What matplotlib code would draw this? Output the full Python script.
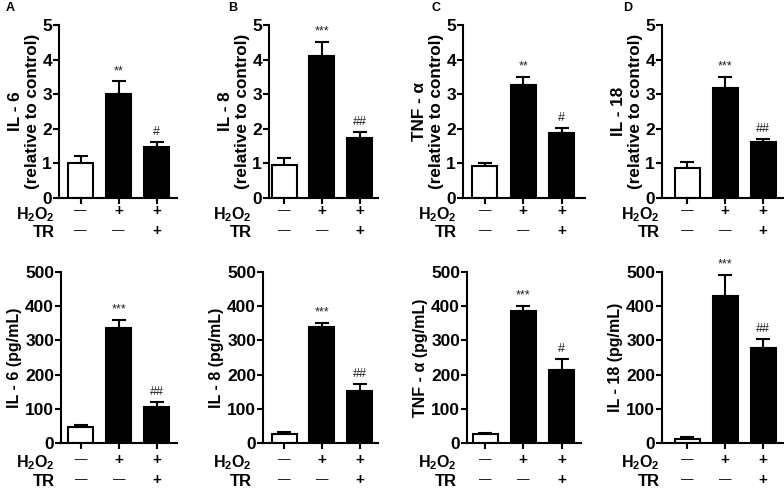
import matplotlib
matplotlib.use("Agg")
import matplotlib.pyplot as plt
import matplotlib.transforms as mtransforms

plt.rcParams['font.family'] = ['Liberation Sans', 'DejaVu Sans']
plt.rcParams['font.weight'] = 'bold'
plt.rcParams['mathtext.fontset'] = 'custom'
plt.rcParams['mathtext.rm'] = 'Liberation Sans:bold'
plt.rcParams['mathtext.bf'] = 'Liberation Sans:bold'

# relative to control (top row)
rel_labels = ['IL - 6', 'IL - 8', 'TNF - \u03b1', 'IL - 18']
rel_means = [[1.0, 3.02, 1.48], [0.96, 4.1, 1.73], [0.92, 3.27, 1.89], [0.88, 3.17, 1.63]]
rel_errs = [[0.2, 0.35, 0.13], [0.21, 0.42, 0.17], [0.09, 0.24, 0.14], [0.16, 0.34, 0.08]]
rel_marks = [['', '**', '#'], ['', '***', '##'], ['', '**', '#'], ['', '***', '##']]

# concentration pg/mL (bottom row)
pg_means = [[46, 335, 104], [27, 339, 153], [26, 385, 212], [13, 429, 279]]
pg_errs = [[6, 25, 15], [5, 12, 19], [4, 17, 34], [4, 63, 24]]
pg_marks = [['', '***', '##'], ['', '***', '##'], ['', '***', '#'], ['', '***', '##']]

h2o2_signs = ['\u2014', '+', '+']
tr_signs = ['\u2014', '\u2014', '+']
panel_letters = ['A', 'B', 'C', 'D']

W, H = 784, 488
fig = plt.figure(figsize=(W / 100, H / 100), dpi=100)

# layout in pixels: axis left, axis right, first bar centre, last bar centre
top_box = [(59, 177, 80.5, 156.5), (269, 378, 284, 359.5), (463, 585, 485, 561.5), (662, 784, 687, 763)]
bot_box = [(61, 177, 80.8, 156.8), (263, 378, 284, 359.5), (467, 581, 485, 561.5), (662, 784, 687, 763)]
lab_right = [55, 252, 457, 660]
letter_x = [6, 228, 432, 623]


def draw_panel(box, ytop, ybot, means, errs, marks, ylabel, ylsize, ymax, step, row_y, lab_x, lab_dy):
    left, right, c0, c2 = box
    ax = fig.add_axes([left / W, 1 - ybot / H, (right - left) / W, (ybot - ytop) / H])
    sp = (c2 - c0) / 2
    x = [0, 1, 2]
    colors = ['white', 'black', 'black']
    ax.bar(x, means, width=25 / sp, color=colors, edgecolor='black', linewidth=1.5, zorder=2)
    ax.errorbar(x, means, yerr=[[0, 0, 0], errs], fmt='none', ecolor='black',
                elinewidth=1.5, capsize=5, capthick=1.5, zorder=1)
    for xi, m, e, s in zip(x, means, errs, marks):
        if s:
            ax.annotate(s, (xi, m + e), xytext=(0, 3), textcoords='offset points',
                        ha='center', va='bottom', fontsize=9, fontweight='normal', color='#222222')
    ax.set_xlim((left - c0) / sp, 2 + (right - c2) / sp)
    ax.set_ylim(0, ymax)
    ax.set_yticks([i * step for i in range(6)])
    ax.set_xticks(x)
    ax.set_xticklabels([])
    for s in ['top', 'right']:
        ax.spines[s].set_visible(False)
    for s in ['left', 'bottom']:
        ax.spines[s].set_linewidth(1.5)
    ax.tick_params(axis='both', direction='out', length=4, width=1.5, labelsize=12.5, pad=1)
    ax.set_ylabel(ylabel, fontsize=ylsize, fontweight='bold', linespacing=1.1, labelpad=2)
    trans = mtransforms.blended_transform_factory(ax.transData, fig.transFigure)
    for xi, hs, ts in zip(x, h2o2_signs, tr_signs):
        fig.text(xi, 1 - row_y / H, hs, transform=trans, ha='center', va='center',
                 fontsize=9 if hs != '+' else 11, fontweight='normal' if hs != '+' else 'bold')
        fig.text(xi, 1 - (row_y + 20) / H, ts, transform=trans, ha='center', va='center',
                 fontsize=9 if ts != '+' else 11, fontweight='normal' if ts != '+' else 'bold')
    fig.text(lab_x / W, 1 - (row_y + lab_dy) / H, r'$\mathbf{H_2O_2}$', ha='right', va='baseline', fontsize=11.5)
    fig.text(lab_x / W, 1 - (row_y + 26) / H, 'TR', ha='right', va='baseline', fontsize=12)
    return ax


for i in range(4):
    draw_panel(top_box[i], 25, 198, rel_means[i], rel_errs[i], rel_marks[i],
               rel_labels[i] + '\n(relative to control)', 12.3, 5, 1, 211, lab_right[i], 8)
    draw_panel(bot_box[i], 272, 443, pg_means[i], pg_errs[i], pg_marks[i],
               rel_labels[i] + ' (pg/mL)', 11.5, 500, 100, 460, lab_right[i], 7)
    fig.text(letter_x[i] / W, 1 - 8 / H, panel_letters[i], ha='left', va='center', fontsize=9)

fig.savefig('out.png', dpi=100)
